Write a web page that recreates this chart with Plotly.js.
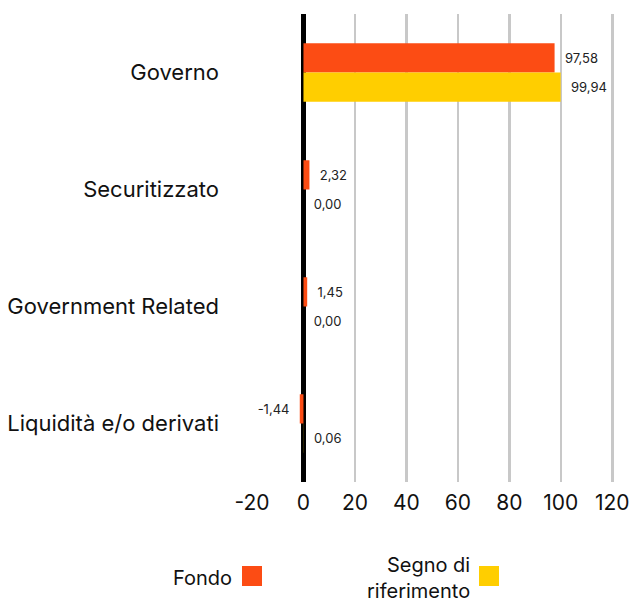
<!DOCTYPE html>
<html>
<head>
<meta charset="utf-8">
<script src="https://cdn.plot.ly/plotly-3.0.1.min.js"></script>
<style>html,body{margin:0;padding:0;background:#fff;}#chart{width:630px;height:604px;}</style>
</head>
<body>
<div id="chart"></div>
<script>
var categories = ["Governo", "Securitizzato", "Government Related", "Liquidità e/o derivati"];
var fondoValues = [97.58, 2.32, 1.45, -1.44];
var benchmarkValues = [99.94, 0.00, 0.00, 0.06];
var seriesNames = ["Fondo", "Segno di riferimento"];
var tickValues = [-20, 0, 20, 40, 60, 80, 100, 120];
var colors = ["#FC4C14", "#FFCE00"];

function labels(vals) {
  return vals.map(function (v) {
    var s = v.toFixed(2).replace(".", ",");
    return v < 0 ? s + "\u00a0\u00a0" : "\u00a0\u00a0" + s;
  });
}

var FONT = "Inter, 'Open Sans', sans-serif";
var ML = 252, MR = 10, MT = 14, MB = 122, W = 630, H = 604;

var traces = [
  {
    type: "bar", orientation: "h", name: seriesNames[0],
    y: categories, x: fondoValues, text: labels(fondoValues),
    textposition: "outside", cliponaxis: false,
    textfont: {size: 13, color: "#222", family: FONT},
    marker: {color: colors[0]}, showlegend: false
  },
  {
    type: "bar", orientation: "h", name: seriesNames[1],
    y: categories, x: benchmarkValues, text: labels(benchmarkValues),
    textposition: "outside", cliponaxis: false,
    textfont: {size: 13, color: "#222", family: FONT},
    marker: {color: colors[1]}, showlegend: false
  }
];

var layout = {
  width: W, height: H,
  margin: {l: ML, r: MR, t: MT, b: MB},
  paper_bgcolor: "#fff", plot_bgcolor: "#fff",
  font: {family: FONT, color: "#111"},
  barmode: "group", bargap: 0.5, bargroupgap: 0,
  showlegend: false,
  xaxis: {
    range: [-20, 123], tickvals: tickValues,
    ticktext: tickValues.map(String),
    showgrid: true, gridcolor: "#c8c8c8", gridwidth: 2.5,
    zeroline: true, zerolinecolor: "#000", zerolinewidth: 5,
    showline: false, ticks: "", ticklabelstandoff: 6,
    tickfont: {size: 21, color: "#111", family: FONT},
    fixedrange: true
  },
  yaxis: {
    type: "category", categoryorder: "array", categoryarray: categories,
    autorange: "reversed", showgrid: false, zeroline: false,
    ticks: "", ticklabelstandoff: 32,
    tickfont: {size: 22, color: "#111", family: FONT}
  },
  annotations: [],
  shapes: []
};

var plotW = W - ML - MR, plotH = H - MT - MB;
function px2x(p) { return (p - ML) / plotW; }
function py2y(p) { return (H - MB - p) / plotH; }
layout.annotations.push({xref: "paper", yref: "paper", x: px2x(234), y: py2y(578),
  xanchor: "right", yanchor: "middle", text: seriesNames[0], showarrow: false, align: "right",
  font: {size: 20, color: "#111", family: FONT}});
layout.annotations.push({xref: "paper", yref: "paper", x: px2x(472), y: py2y(578),
  xanchor: "right", yanchor: "middle", text: "Segno di<br>riferimento", showarrow: false, align: "right",
  font: {size: 20, color: "#111", family: FONT}});
layout.shapes.push({type: "rect", xref: "paper", yref: "paper", x0: px2x(242), x1: px2x(262),
  y0: py2y(586), y1: py2y(566), fillcolor: colors[0], line: {width: 0}});
layout.shapes.push({type: "rect", xref: "paper", yref: "paper", x0: px2x(479), x1: px2x(499),
  y0: py2y(586), y1: py2y(566), fillcolor: colors[1], line: {width: 0}});

Plotly.newPlot("chart", traces, layout, {displayModeBar: false, staticPlot: true});
</script>
</body>
</html>
